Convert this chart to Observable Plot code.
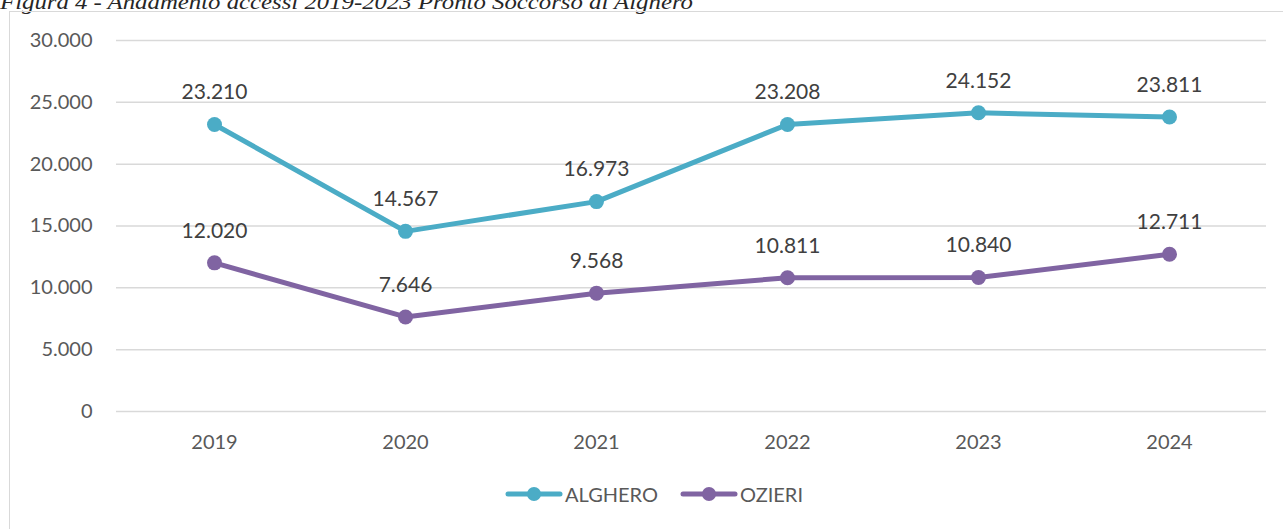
<!DOCTYPE html>
<html><head><meta charset="utf-8">
<script src="https://cdn.jsdelivr.net/npm/d3@7"></script>
<script src="https://cdn.jsdelivr.net/npm/@observablehq/plot@0.6"></script>
<style>
body{margin:0;background:#fff;}
#wrap{position:relative;width:1283px;height:529px;overflow:hidden;font-family:Lato,"Open Sans",sans-serif;}
#title{position:absolute;left:0;top:-9px;font-family:"Liberation Serif",serif;font-style:italic;font-size:20px;color:#262626;white-space:nowrap;transform-origin:0 0;}
#frame{position:absolute;left:9px;top:11px;width:1300px;height:540px;border:1px solid #d9d9d9;box-sizing:border-box;}
#chart{position:absolute;left:0;top:0;}
#legend{position:absolute;left:505px;top:482px;display:flex;gap:22px;font-size:20px;color:#595959;}
.item{display:flex;align-items:center;gap:2px;}
</style></head>
<body><div id="wrap"><div id="title">Figura 4 - Andamento accessi 2019-2023 Pronto Soccorso di Alghero</div><div id="frame"></div><div id="chart"></div><div id="legend"></div></div>
<script>
const years = ["2019","2020","2021","2022","2023","2024"];
const alghero = [23210, 14567, 16973, 23208, 24152, 23811];
const ozieri = [12020, 7646, 9568, 10811, 10840, 12711];
const seriesNames = ["ALGHERO","OZIERI"];
const colors = ["#4BACC6","#8064A2"];
const yTicks = [0,5000,10000,15000,20000,25000,30000];

const loc = d3.formatLocale({decimal:",",thousands:".",grouping:[3],currency:["€",""]});
const fmt = loc.format(",");

const data = [];
years.forEach((y,i)=>{ data.push({year:y, value:alghero[i], s:seriesNames[0]}); });
years.forEach((y,i)=>{ data.push({year:y, value:ozieri[i], s:seriesNames[1]}); });

const plot = Plot.plot({
  width:1283, height:460,
  marginLeft:116, marginRight:17, marginTop:40, marginBottom:49,
  style:{fontFamily:"Lato, 'Open Sans', sans-serif", background:"transparent"},
  x:{type:"point", domain:years, padding:0.5, label:null},
  y:{domain:[0,30000], label:null},
  color:{domain:seriesNames, range:colors},
  marks:[
    Plot.ruleY(yTicks,{stroke:"#d9d9d9", strokeWidth:1.5}),
    Plot.axisY({ticks:yTicks, tickSize:0, tickPadding:24, tickFormat:fmt, fontSize:20, fill:"#595959", label:null}),
    Plot.axisX({tickSize:0, tickPadding:23, fontSize:20, fill:"#595959", label:null}),
    Plot.line(data,{x:"year", y:"value", z:"s", stroke:"s", strokeWidth:5, strokeLinejoin:"round", strokeLinecap:"round"}),
    Plot.dot(data,{x:"year", y:"value", fill:"s", r:7.5, stroke:null}),
    Plot.text(data,{x:"year", y:"value", text:d=>fmt(d.value), dy:-32, fontSize:21, fill:"#404040"})
  ]
});
document.getElementById("chart").appendChild(plot);

const leg = document.getElementById("legend");
seriesNames.forEach((n,i)=>{
  const it = document.createElement("div"); it.className="item";
  it.innerHTML = `<svg width="58" height="16"><line x1="3" y1="8" x2="55" y2="8" stroke="${colors[i]}" stroke-width="5" stroke-linecap="round"/><circle cx="29" cy="8" r="7" fill="${colors[i]}"/></svg><span>${n}</span>`;
  leg.appendChild(it);
});

const t = document.getElementById("title");
const w = t.getBoundingClientRect().width;
t.style.transform = `scaleX(${693 / w})`;
</script></body></html>
